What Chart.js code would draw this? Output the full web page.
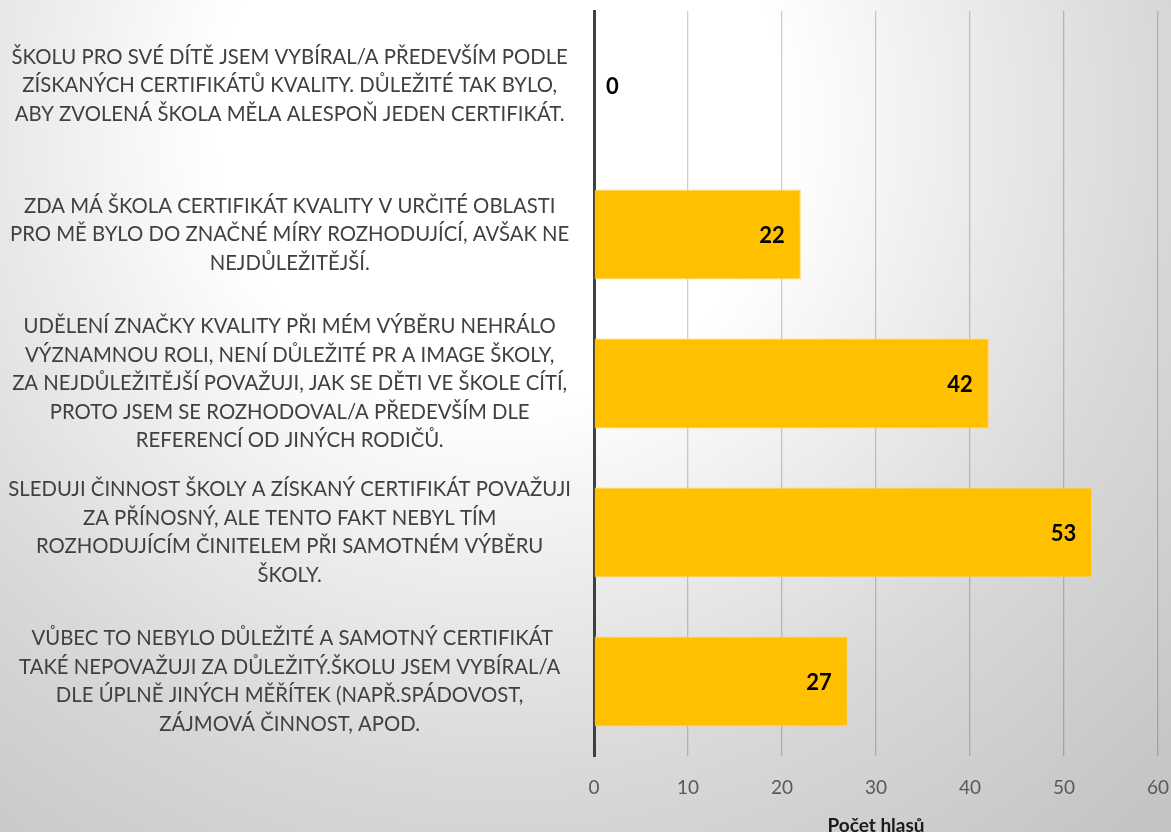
<!DOCTYPE html>
<html>
<head>
<meta charset="utf-8">
<script src="https://cdn.jsdelivr.net/npm/chart.js@4.4.1/dist/chart.umd.min.js"></script>
<style>
  html, body { margin: 0; padding: 0; overflow: hidden; background: #fff; }
  #wrap { width: 1171px; height: 840px; position: relative; }
</style>
</head>
<body>
<div id="wrap"><canvas id="chart"></canvas></div>
<script>
// --- data ---
const categories = [
    ['ŠKOLU PRO SVÉ DÍTĚ JSEM VYBÍRAL/A PŘEDEVŠÍM PODLE', 'ZÍSKANÝCH CERTIFIKÁTŮ KVALITY. DŮLEŽITÉ TAK BYLO,', 'ABY ZVOLENÁ ŠKOLA MĚLA ALESPOŇ JEDEN CERTIFIKÁT.'],
    ['ZDA MÁ ŠKOLA CERTIFIKÁT KVALITY V URČITÉ OBLASTI', 'PRO MĚ BYLO DO ZNAČNÉ MÍRY ROZHODUJÍCÍ, AVŠAK NE', 'NEJDŮLEŽITĚJŠÍ.'],
    ['UDĚLENÍ ZNAČKY KVALITY PŘI MÉM VÝBĚRU NEHRÁLO', 'VÝZNAMNOU ROLI, NENÍ DŮLEŽITÉ PR A IMAGE ŠKOLY,', 'ZA NEJDŮLEŽITĚJŠÍ POVAŽUJI, JAK SE DĚTI VE ŠKOLE CÍTÍ,', 'PROTO JSEM SE ROZHODOVAL/A PŘEDEVŠÍM DLE', 'REFERENCÍ OD JINÝCH RODIČŮ.'],
    ['SLEDUJI ČINNOST ŠKOLY A ZÍSKANÝ CERTIFIKÁT POVAŽUJI', 'ZA PŘÍNOSNÝ, ALE TENTO FAKT NEBYL TÍM', 'ROZHODUJÍCÍM ČINITELEM PŘI SAMOTNÉM VÝBĚRU', 'ŠKOLY.'],
    [' VŮBEC TO NEBYLO DŮLEŽITÉ A SAMOTNÝ CERTIFIKÁT', 'TAKÉ NEPOVAŽUJI ZA DŮLEŽITÝ.ŠKOLU JSEM VYBÍRAL/A', 'DLE ÚPLNĚ JINÝCH MĚŘÍTEK (NAPŘ.SPÁDOVOST,', 'ZÁJMOVÁ ČINNOST, APOD.']
];
const votes = [0, 22, 42, 53, 27];
const xTicks = [0, 10, 20, 30, 40, 50, 60];
const axisTitle = 'Počet hlasů';

const FONT = 'Lato, "Open Sans", sans-serif';

// fit label font so the widest line is about as wide as in the original
const measure = document.createElement('canvas').getContext('2d');
measure.font = '20px ' + FONT;
let widestLine = 0;
categories.forEach(lines => lines.forEach(l => {
    widestLine = Math.max(widestLine, measure.measureText(l).width);
}));
const labelSize = Math.min(23, 20 * 563 / widestLine);

// background gradient behind everything
const backgroundPlugin = {
    id: 'bg',
    beforeDraw(chart) {
        const c = chart.ctx;
        const g = c.createRadialGradient(500, 120, 0, 500, 120, 950);
        g.addColorStop(0, '#ffffff');
        g.addColorStop(0.3, '#ffffff');
        g.addColorStop(0.5, '#ebebeb');
        g.addColorStop(0.7, '#d8d8d8');
        g.addColorStop(1, '#c4c4c4');
        c.save();
        c.fillStyle = g;
        c.fillRect(0, 0, chart.width, chart.height);
        c.restore();
    }
};

// value labels: inside end of the bar, just right of the axis for zero
const valueLabels = {
    id: 'valueLabels',
    afterDatasetsDraw(chart) {
        const c = chart.ctx;
        const meta = chart.getDatasetMeta(0);
        c.save();
        c.font = 'bold 22px ' + FONT;
        c.fillStyle = '#000';
        c.textBaseline = 'middle';
        meta.data.forEach((bar, i) => {
            const v = votes[i];
            if (v > 0) {
                c.textAlign = 'right';
                c.fillText(String(v), bar.x - 16, bar.y + 1);
            } else {
                c.textAlign = 'left';
                c.fillText(String(v), bar.base + 12, bar.y + 1);
            }
        });
        c.restore();
    }
};

new Chart(document.getElementById('chart'), {
    type: 'bar',
    data: {
        labels: categories,
        datasets: [{
            data: votes,
            backgroundColor: '#FFC000',
            borderColor: '#FFD75E',
            borderWidth: 1,
            categoryPercentage: 1,
            barPercentage: 0.604
        }]
    },
    options: {
        indexAxis: 'y',
        responsive: true,
        maintainAspectRatio: false,
        animation: false,
        layout: { padding: { left: 8, right: 13, top: 11, bottom: 3 } },
        plugins: {
            legend: { display: false },
            tooltip: { enabled: false }
        },
        scales: {
            x: {
                min: xTicks[0],
                max: xTicks[xTicks.length - 1],
                afterBuildTicks(scale) {
                    scale.ticks = xTicks.map(v => ({ value: v }));
                },
                afterFit(scale) {
                    scale.height = 81;
                    scale.paddingLeft = 0;
                    scale.paddingRight = 0;
                },
                grid: {
                    color: ctx => ctx.index === 0 ? 'rgba(0,0,0,0)' : 'rgba(0,0,0,0.19)',
                    lineWidth: 1.3,
                    drawTicks: false
                },
                border: { display: false },
                ticks: {
                    padding: 20,
                    color: '#595959',
                    font: { family: FONT, size: 19 }
                },
                title: {
                    display: true,
                    text: axisTitle,
                    color: '#1a1a1a',
                    padding: { top: 16, bottom: 0 },
                    font: { family: FONT, size: 19, weight: 'bold' }
                }
            },
            y: {
                grid: { display: false, drawTicks: false },
                border: { display: true, color: '#404040', width: 3 },
                ticks: {
                    crossAlign: 'center',
                    padding: 23,
                    color: '#404040',
                    autoSkip: false,
                    font: { family: FONT, size: labelSize, lineHeight: '28.5px' }
                },
                afterFit(scale) {
                    scale.width = 586;
                    scale.paddingTop = 0;
                    scale.paddingBottom = 0;
                }
            }
        }
    },
    plugins: [backgroundPlugin, valueLabels]
});
</script>
</body>
</html>
